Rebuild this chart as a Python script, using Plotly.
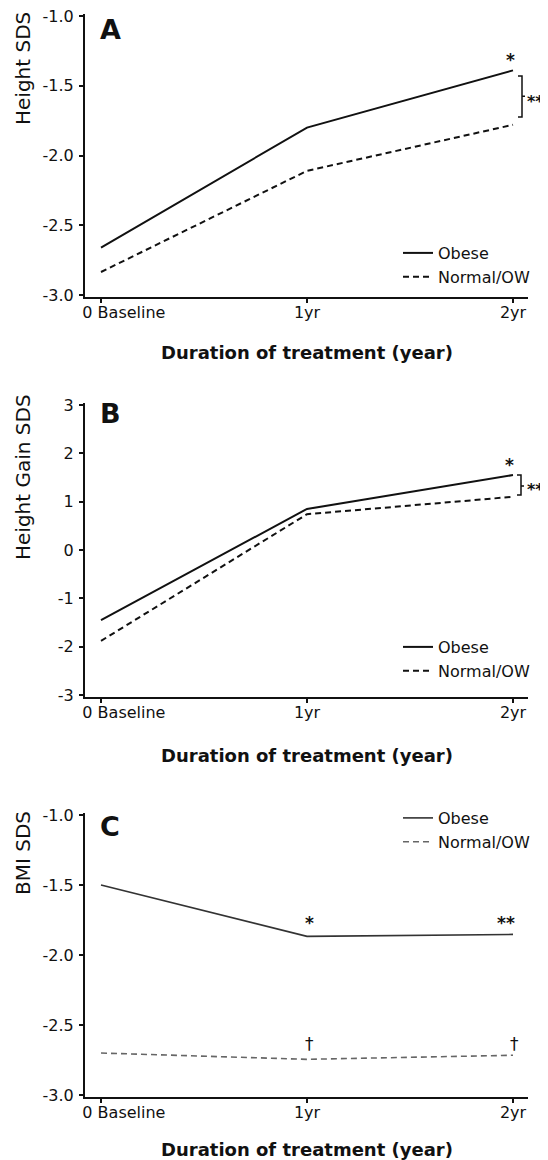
import plotly.graph_objects as go

# Page is shown with an 8px body margin, so the figure is drawn 8px in from
# the top-left corner of the 548x1160 window.
WIN_W, WIN_H = 548, 1160
OFF = 8
W, H = WIN_W - OFF, WIN_H - OFF

# ---------------- data ----------------
x_positions = [0, 1, 2]
x_tick_labels = ["0 Baseline", "1yr", "2yr"]
series_names = ["Obese", "Normal/OW"]

height_sds_obese = [-2.66, -1.80, -1.39]
height_sds_normal = [-2.835, -2.11, -1.78]

height_gain_obese = [-1.45, 0.85, 1.55]
height_gain_normal = [-1.88, 0.74, 1.10]

bmi_sds_obese = [-1.50, -1.867, -1.853]
bmi_sds_normal = [-2.70, -2.745, -2.716]

y_ticks_sds = [-3.0, -2.5, -2.0, -1.5, -1.0]
y_tick_labels_sds = ["-3.0", "-2.5", "-2.0", "-1.5", "-1.0"]
y_ticks_gain = [-3, -2, -1, 0, 1, 2, 3]
y_tick_labels_gain = ["-3", "-2", "-1", "0", "1", "2", "3"]

y_titles = ["Height SDS", "Height Gain SDS", "BMI SDS"]
panel_letters = ["A", "B", "C"]
x_title = "Duration of treatment (year)"

# --------------- styling / layout ---------------
FONT = "DejaVu Sans, Arial, sans-serif"
BLACK = "#111111"


def px_x(p):
    return (p - OFF) / W


def px_y(p):
    return 1 - (p - OFF) / H


# x pixel extents of plot area and tick positions (window pixels)
X_LEFT, X_RIGHT = 85, 528
X_TICK0, X_TICK2 = 101, 513
unit = (X_TICK2 - X_TICK0) / 2.0
x_range = [(X_LEFT - X_TICK0) / unit, 2 + (X_RIGHT - X_TICK2) / unit]

panels = [
    dict(obese=height_sds_obese, normal=height_sds_normal,
         top=14, bottom=297, yrange=[-3.014, -0.986],
         ticks=y_ticks_sds, labels=y_tick_labels_sds,
         ytitle_c=69, xtitle_c=352, letter_c=30, legend_top=236,
         obese_w=2.0, normal_w=2.0, obese_col=BLACK, normal_col=BLACK),
    dict(obese=height_gain_obese, normal=height_gain_normal,
         top=403, bottom=697, yrange=[-3.04, 3.04],
         ticks=y_ticks_gain, labels=y_tick_labels_gain,
         ytitle_c=477, xtitle_c=755, letter_c=413, legend_top=630,
         obese_w=2.0, normal_w=2.0, obese_col=BLACK, normal_col=BLACK),
    dict(obese=bmi_sds_obese, normal=bmi_sds_normal,
         top=813, bottom=1097, yrange=[-3.014, -0.986],
         ticks=y_ticks_sds, labels=y_tick_labels_sds,
         ytitle_c=853, xtitle_c=1149, letter_c=826, legend_top=801,
         obese_w=1.6, normal_w=1.6, obese_col="#333333", normal_col="#666666"),
]

fig = go.Figure()
annotations = []
shapes = []

tick_text = ["\u00a0" * 9 + x_tick_labels[0]] + x_tick_labels[1:]

for i, p in enumerate(panels):
    n = "" if i == 0 else str(i + 1)
    xa, ya = "x" + n, "y" + n
    leg = "legend" + n
    fig.add_trace(go.Scatter(
        x=x_positions, y=p["obese"], mode="lines", name=series_names[0],
        line=dict(color=p["obese_col"], width=p["obese_w"]),
        xaxis=xa, yaxis=ya, legend=leg, legendgroup=f"o{i}"))
    fig.add_trace(go.Scatter(
        x=x_positions, y=p["normal"], mode="lines", name=series_names[1],
        line=dict(color=p["normal_col"], width=p["normal_w"], dash="6px,4px"),
        xaxis=xa, yaxis=ya, legend=leg, legendgroup=f"n{i}"))

    axis_common = dict(showline=True, linecolor=BLACK, linewidth=2,
                       ticks="outside", ticklen=4, tickwidth=1.5,
                       tickcolor=BLACK, showgrid=False, zeroline=False,
                       automargin=False, ticklabeloverflow="allow",
                       tickfont=dict(family=FONT, size=16, color=BLACK))
    fig.update_layout(**{
        ("xaxis" + n): dict(domain=[px_x(X_LEFT), px_x(X_RIGHT)],
                            range=x_range, anchor=ya,
                            tickmode="array", tickvals=x_positions,
                            ticktext=tick_text, ticklabelstandoff=-4,
                            **axis_common),
        ("yaxis" + n): dict(domain=[px_y(p["bottom"]), px_y(p["top"])],
                            range=p["yrange"], anchor=xa,
                            tickmode="array", tickvals=p["ticks"],
                            ticktext=p["labels"], ticklabelstandoff=2,
                            **axis_common),
        leg: dict(x=px_x(398), y=px_y(p["legend_top"]), xanchor="left",
                  yanchor="top", bgcolor="rgba(0,0,0,0)",
                  font=dict(family=FONT, size=16, color=BLACK),
                  tracegroupgap=0),
    })

    # y title
    annotations.append(dict(text=y_titles[i], xref="paper", yref="paper",
                            x=px_x(23), y=px_y(p["ytitle_c"]), textangle=-90,
                            showarrow=False, xanchor="center", yanchor="middle",
                            font=dict(family=FONT, size=20, color=BLACK)))
    # x title
    annotations.append(dict(text=x_title, xref="paper", yref="paper",
                            x=px_x((X_LEFT + X_RIGHT) / 2), y=px_y(p["xtitle_c"]),
                            showarrow=False, xanchor="center", yanchor="middle",
                            font=dict(family=FONT, size=18, color=BLACK, weight="bold")))
    # panel letter
    annotations.append(dict(text=panel_letters[i], xref="paper", yref="paper",
                            x=px_x(110), y=px_y(p["letter_c"]),
                            showarrow=False, xanchor="center", yanchor="middle",
                            font=dict(family=FONT, size=27, color=BLACK, weight="bold")))

sig_font = dict(family=FONT, size=17, color=BLACK, weight="bold")
sig_font_small = dict(family=FONT, size=16, color=BLACK, weight="bold")

# Panel A significance marks
a_mid = (height_sds_obese[2] + height_sds_normal[2]) / 2
annotations.append(dict(text="*", x=2, y=height_sds_obese[2], xref="x", yref="y",
                        showarrow=False, xshift=-3, yshift=10, font=sig_font))
shapes.append(dict(type="path", xref="x", yref="y", xsizemode="pixel", xanchor=2,
                   path=(f"M5,{height_sds_obese[2] - 0.04} L9,{height_sds_obese[2] - 0.04} "
                         f"L9,{height_sds_normal[2] + 0.055} L5,{height_sds_normal[2] + 0.055} "
                         f"M9,{a_mid + 0.01} L12,{a_mid + 0.01}"),
                   line=dict(color=BLACK, width=1.5)))
annotations.append(dict(text="**", x=2, y=a_mid, xref="x", yref="y",
                        showarrow=False, xanchor="left",
                        xshift=12, yshift=-4, font=sig_font_small))

# Panel B significance marks
b_mid = (height_gain_obese[2] + height_gain_normal[2]) / 2
annotations.append(dict(text="*", x=2, y=height_gain_obese[2], xref="x2", yref="y2",
                        showarrow=False, xshift=-4, yshift=10, font=sig_font))
shapes.append(dict(type="path", xref="x2", yref="y2", xsizemode="pixel", xanchor=2,
                   path=(f"M4,{height_gain_obese[2]} L8,{height_gain_obese[2]} "
                         f"L8,{height_gain_normal[2] + 0.04} L4,{height_gain_normal[2] + 0.04} "
                         f"M8,{b_mid} L11,{b_mid}"),
                   line=dict(color=BLACK, width=1.5)))
annotations.append(dict(text="**", x=2, y=b_mid, xref="x2", yref="y2",
                        showarrow=False, xanchor="left",
                        xshift=12, yshift=-4, font=sig_font_small))

# Panel C significance marks
annotations.append(dict(text="*", x=1, y=bmi_sds_obese[1], xref="x3", yref="y3",
                        showarrow=False, xshift=2, yshift=13, font=sig_font))
annotations.append(dict(text="**", x=2, y=bmi_sds_obese[2], xref="x3", yref="y3",
                        showarrow=False, xshift=-7, yshift=11, font=sig_font))
annotations.append(dict(text="†", x=1, y=bmi_sds_normal[1], xref="x3", yref="y3",
                        showarrow=False, xshift=2, yshift=15,
                        font=dict(family=FONT, size=17, color=BLACK)))
annotations.append(dict(text="†", x=2, y=bmi_sds_normal[2], xref="x3", yref="y3",
                        showarrow=False, xshift=1, yshift=11,
                        font=dict(family=FONT, size=17, color=BLACK)))

fig.update_layout(
    width=W, height=H,
    margin=dict(l=0, r=0, t=0, b=0, pad=0, autoexpand=False),
    paper_bgcolor="white", plot_bgcolor="white",
    showlegend=True,
    annotations=annotations, shapes=shapes,
    font=dict(family=FONT, color=BLACK),
)

fig.write_html("out.html")
